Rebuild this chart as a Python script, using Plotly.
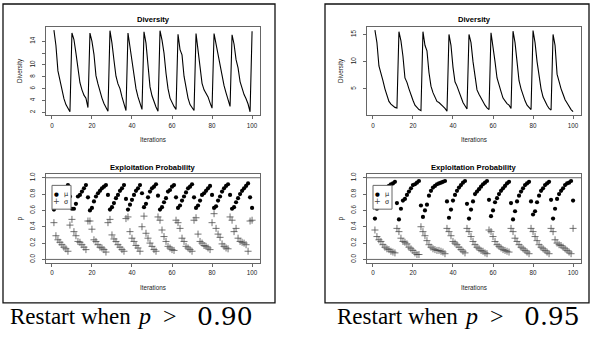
import plotly.graph_objects as go

W, H = 592, 339

# ---------------- data ----------------
iterations = list(range(1, 101))
x_ticks = [0, 20, 40, 60, 80, 100]
div_ticks_090 = [2, 4, 6, 8, 10, 12, 14]
div_ticklabels_090 = ["2", "4", "6", "8", "10", "", "14"]
div_ticks_095 = [5, 10, 15]
p_ticks = [0.0, 0.2, 0.4, 0.6, 0.8, 1.0]
p_ticklabels = ["0.0", "0.2", "0.4", "0.6", "0.8", "1.0"]

diversity_090 = [
    15.9, 13.3, 9.0, 7.5, 5.5, 4.3, 3.3, 2.7, 2.1,
    15.4, 14.3, 12.0, 9.5, 7.0, 5.8, 4.9, 4.4, 2.8,
    15.4, 14.0, 11.8, 8.2, 6.8, 5.5, 4.4, 3.5, 2.9, 2.2,
    15.8, 13.7, 10.8, 8.1, 6.8, 6.0, 4.6, 3.6, 2.3,
    15.4, 13.1, 10.5, 8.0, 6.0, 4.6, 3.5, 2.5,
    15.6, 13.7, 10.0, 6.3, 4.8, 3.8, 2.9, 2.2,
    15.8, 14.2, 12.0, 8.6, 6.0, 4.4, 3.6, 3.0, 2.5,
    15.2, 12.6, 11.7, 8.1, 6.2, 4.4, 3.3, 2.8, 2.3,
    15.3, 12.5, 9.0, 6.9, 5.8, 5.3, 4.6, 3.6, 2.7,
    15.3, 13.5, 11.5, 9.8, 8.1, 6.5, 5.3, 4.3, 3.0,
    15.1, 13.5, 10.9, 9.5, 7.2, 6.0, 5.0, 4.3, 3.4, 2.1,
    15.7,
]

mu_090 = [
    0.61, 0.65, 0.70, 0.74, 0.78, 0.82, 0.86, 0.91, 0.77,
    0.62, 0.62, 0.68, 0.77, 0.79, 0.83, 0.87, 0.91, 0.76,
    0.60, 0.63, 0.71, 0.77, 0.81, 0.84, 0.87, 0.89, 0.91, 0.79,
    0.61, 0.64, 0.69, 0.75, 0.79, 0.84, 0.87, 0.91, 0.74,
    0.61, 0.67, 0.73, 0.79, 0.84, 0.87, 0.91, 0.81,
    0.64, 0.68, 0.76, 0.83, 0.87, 0.89, 0.92, 0.78,
    0.61, 0.64, 0.70, 0.75, 0.83, 0.85, 0.89, 0.91, 0.76,
    0.63, 0.66, 0.72, 0.77, 0.82, 0.87, 0.89, 0.92, 0.76,
    0.63, 0.66, 0.72, 0.79, 0.81, 0.84, 0.87, 0.90, 0.79,
    0.63, 0.65, 0.72, 0.77, 0.83, 0.87, 0.90, 0.92, 0.79,
    0.62, 0.64, 0.70, 0.75, 0.80, 0.84, 0.87, 0.90, 0.93, 0.76,
    0.63,
]

sigma_090 = [
    0.45, 0.29, 0.24, 0.21, 0.18, 0.15, 0.13, 0.10, 0.42, 0.49,
    0.34, 0.29, 0.22, 0.21, 0.18, 0.15, 0.12, 0.47, 0.47,
    0.37, 0.24, 0.22, 0.18, 0.15, 0.14, 0.12, 0.09, 0.45, 0.49,
    0.30, 0.25, 0.22, 0.18, 0.15, 0.12, 0.10, 0.50, 0.52,
    0.34, 0.26, 0.22, 0.17, 0.14, 0.10, 0.40, 0.53,
    0.32, 0.26, 0.20, 0.16, 0.12, 0.10, 0.52, 0.48,
    0.36, 0.28, 0.22, 0.16, 0.14, 0.12, 0.11, 0.48, 0.45,
    0.38, 0.26, 0.22, 0.16, 0.14, 0.12, 0.10, 0.48, 0.51,
    0.31, 0.22, 0.20, 0.17, 0.16, 0.14, 0.12, 0.45, 0.56,
    0.38, 0.31, 0.27, 0.19, 0.16, 0.14, 0.13, 0.52, 0.48,
    0.34, 0.38, 0.26, 0.22, 0.21, 0.20, 0.18, 0.10, 0.47, 0.48,
]

diversity_095 = [
    15.8, 13.5, 9.2, 8.0, 6.5, 5.0, 3.8, 2.7, 2.2, 1.9, 1.6, 1.5,
    15.5, 13.8, 11.0, 7.0, 6.2, 5.0, 3.8, 2.9, 2.0, 1.5, 1.2, 1.0,
    15.5, 13.0, 12.0, 8.0, 5.5, 4.3, 3.5, 2.7, 2.5, 2.2, 1.8, 1.4, 0.9,
    15.0, 13.0, 9.0, 6.3, 5.5, 4.5, 3.3, 2.5, 1.9, 1.3,
    15.0, 13.5, 10.0, 7.5, 4.8, 4.0, 3.3, 2.5, 2.0, 1.5, 1.2,
    15.3, 13.0, 10.0, 7.0, 5.5, 4.5, 3.3, 2.7, 2.3, 2.0, 1.4,
    15.6, 13.5, 10.0, 6.5, 5.0, 3.8, 2.8, 2.0, 1.5, 1.2,
    15.7, 13.5, 10.0, 7.0, 5.0, 3.5, 2.6, 2.0, 1.4, 1.1,
    15.0, 13.0, 7.7, 6.2, 5.0, 4.0, 3.0, 2.4, 1.7, 1.2, 0.8,
]

mu_095 = [
    0.50, 0.62, 0.68, 0.74, 0.79, 0.84, 0.88, 0.90, 0.92, 0.93, 0.95, 0.69,
    0.49, 0.62, 0.72, 0.74, 0.79, 0.83, 0.87, 0.91, 0.92, 0.94, 0.96, 0.66,
    0.52, 0.60, 0.67, 0.78, 0.84, 0.88, 0.90, 0.92, 0.93, 0.94, 0.95, 0.96, 0.71,
    0.51, 0.61, 0.72, 0.79, 0.84, 0.88, 0.91, 0.94, 0.96, 0.68,
    0.50, 0.61, 0.71, 0.80, 0.83, 0.86, 0.89, 0.92, 0.94, 0.96, 0.73,
    0.53, 0.60, 0.70, 0.75, 0.80, 0.84, 0.87, 0.90, 0.93, 0.95, 0.69,
    0.49, 0.59, 0.71, 0.78, 0.83, 0.87, 0.91, 0.93, 0.95, 0.71,
    0.55, 0.59, 0.70, 0.78, 0.84, 0.87, 0.91, 0.93, 0.95, 0.73,
    0.50, 0.62, 0.74, 0.80, 0.84, 0.87, 0.91, 0.93, 0.94, 0.96, 0.72,
]

sigma_095 = [
    0.36, 0.28, 0.24, 0.22, 0.18, 0.15, 0.13, 0.12, 0.10, 0.09, 0.08,
    0.38, 0.34, 0.26, 0.22, 0.21, 0.19, 0.15, 0.13, 0.11, 0.08, 0.06, 0.06,
    0.40, 0.34, 0.29, 0.23, 0.18, 0.15, 0.13, 0.12, 0.11, 0.11, 0.10, 0.09, 0.07,
    0.38, 0.34, 0.29, 0.22, 0.20, 0.18, 0.15, 0.12, 0.10, 0.08,
    0.38, 0.34, 0.28, 0.22, 0.18, 0.15, 0.13, 0.11, 0.10, 0.08, 0.07,
    0.36, 0.34, 0.28, 0.22, 0.18, 0.16, 0.14, 0.12, 0.11, 0.10, 0.09,
    0.38, 0.34, 0.26, 0.22, 0.18, 0.15, 0.13, 0.11, 0.09, 0.07,
    0.38, 0.34, 0.28, 0.23, 0.18, 0.15, 0.13, 0.11, 0.09, 0.07,
    0.38, 0.34, 0.24, 0.20, 0.18, 0.17, 0.15, 0.13, 0.11, 0.09, 0.07,
    0.38,
]

titles = ["Diversity", "Exploitation Probability"]
x_label = "Iterations"
y_labels = ["Diversity", "p"]
legend_labels = ["μ", "σ"]
caption_prefix = "Restart when"
caption_thresholds = ["0.90", "0.95"]

# ---------------- layout helpers ----------------
SANS = "Liberation Sans, Arial, Helvetica, sans-serif"
SERIF = "Liberation Serif, Times New Roman, serif"
FRAME = "#666666"
TXT = "#222222"


def fx(px):
    return px / W


def fy(py):
    return 1 - py / H


def r_range(vals):
    lo, hi = min(vals), max(vals)
    d = (hi - lo) * 0.04
    return [lo - d, hi + d]


# plot frames in pixels: (left, right, top, bottom)
frames = {
    "div_l": (46, 260, 24, 113),
    "div_r": (367, 581, 24, 113),
    "p_l": (46, 260, 173, 262),
    "p_r": (367, 581, 173, 262),
}

fig = go.Figure()

# diversity lines
fig.add_trace(go.Scatter(x=iterations, y=diversity_090, mode="lines",
                         line=dict(color="black", width=1.1),
                         xaxis="x", yaxis="y", showlegend=False))
fig.add_trace(go.Scatter(x=iterations, y=diversity_095, mode="lines",
                         line=dict(color="black", width=1.1),
                         xaxis="x2", yaxis="y2", showlegend=False))

# exploitation probability
for xa, ya, mu, sg in [("x3", "y3", mu_090, sigma_090), ("x4", "y4", mu_095, sigma_095)]:
    fig.add_trace(go.Scatter(x=iterations, y=sg, mode="markers",
                             marker=dict(symbol="cross-thin", size=5, color="#444444",
                                         line=dict(color="#444444", width=0.75)),
                             xaxis=xa, yaxis=ya, showlegend=False))
    fig.add_trace(go.Scatter(x=iterations, y=mu, mode="markers",
                             marker=dict(symbol="circle", size=4.2, color="black"),
                             xaxis=xa, yaxis=ya, showlegend=False))

axis_common = dict(showgrid=False, zeroline=False, showline=True, mirror=True,
                   linecolor=FRAME, linewidth=1, ticks="outside", ticklen=3,
                   tickwidth=1, tickcolor=FRAME,
                   tickfont=dict(family=SANS, size=6.3, color=TXT))

x_range = r_range(iterations)
layout_axes = {}
names = [("xaxis", "yaxis", "div_l", r_range(diversity_090), div_ticks_090, div_ticklabels_090),
         ("xaxis2", "yaxis2", "div_r", r_range(diversity_095), div_ticks_095, [str(t) for t in div_ticks_095]),
         ("xaxis3", "yaxis3", "p_l", [-0.04, 1.04], p_ticks, p_ticklabels),
         ("xaxis4", "yaxis4", "p_r", [-0.04, 1.04], p_ticks, p_ticklabels)]
for i, (xn, yn, fk, yr, yt, ytl) in enumerate(names):
    l, r, t, b = frames[fk]
    anchor_x = "y" if i == 0 else "y%d" % (i + 1)
    anchor_y = "x" if i == 0 else "x%d" % (i + 1)
    layout_axes[xn] = dict(axis_common, domain=[fx(l), fx(r)], range=x_range,
                           tickmode="array", tickvals=x_ticks,
                           ticktext=[str(v) for v in x_ticks],
                           anchor=anchor_x, ticklabelstandoff=1)
    layout_axes[yn] = dict(axis_common, domain=[fy(b), fy(t)], range=yr,
                           tickmode="array", tickvals=yt, ticktext=ytl,
                           tickangle=-90, anchor=anchor_y, ticklabelstandoff=4)

shapes = []
# reference lines at p = 0 and p = 1
for xa, ya in [("x3", "y3"), ("x4", "y4")]:
    for yv in [0, 1]:
        shapes.append(dict(type="line", xref=xa + " domain", x0=0, x1=1,
                           yref=ya, y0=yv, y1=yv,
                           line=dict(color=FRAME, width=1), layer="below"))

annotations = []


def ann(text, px, py, size, family=SANS, color=TXT, xanchor="center", angle=0):
    annotations.append(dict(text=text, x=fx(px), y=fy(py), xref="paper", yref="paper",
                            showarrow=False, xanchor=xanchor, yanchor="middle",
                            textangle=angle, font=dict(family=family, size=size, color=color)))


# legends (drawn manually, R style)
for (bl, br, bt, bb) in [(52, 71, 184, 208), (373, 392, 184, 208)]:
    shapes.append(dict(type="rect", xref="paper", yref="paper",
                       x0=fx(bl), x1=fx(br), y0=fy(bb), y1=fy(bt),
                       fillcolor="white", line=dict(color=FRAME, width=1), layer="above"))
    for k, (glyph, gsize, lab) in enumerate([("●", 5.5, legend_labels[0]), ("+", 8, legend_labels[1])]):
        yy = 192.3 + k * 8.4
        ann(glyph, bl + 4.5, yy, gsize, family="DejaVu Sans, " + SANS,
            color="black" if k == 0 else "#444444")
        ann(lab, bl + 10, yy, 6.5, family="DejaVu Sans, " + SANS, xanchor="left")

# titles and axis labels
for row, (fkl, fkr) in enumerate([("div_l", "div_r"), ("p_l", "p_r")]):
    for fk, ylab_x in [(fkl, 20), (fkr, 341)]:
        l, r, t, b = frames[fk]
        cx = (l + r) / 2
        ann("<b>%s</b>" % titles[row], cx, t - 7, 7.6, color="black")
        ann(x_label, cx, b + 25, 6.3)
        ann(y_labels[row], ylab_x, (t + b) / 2, 6.3, angle=-90)

# panel boxes
for (bl, br) in [(3, 275), (325, 589)]:
    shapes.append(dict(type="rect", xref="paper", yref="paper",
                       x0=fx(bl), x1=fx(br), y0=fy(302.5), y1=fy(1),
                       line=dict(color="#111111", width=1.3), fillcolor="rgba(0,0,0,0)",
                       layer="above"))

# captions (LaTeX-like: text part, italic p, relation, number)
CAP_Y = 316
for thr, x0 in zip(caption_thresholds, [8, 335]):
    ann(caption_prefix, x0, CAP_Y, 23, family=SERIF, color="black", xanchor="left")
    ann("<i>p</i>", x0 + 136, CAP_Y, 24, family=SERIF, color="black")
    ann("&gt;", x0 + 162, CAP_Y, 24, family=SERIF, color="black")
    ann(thr, x0 + 217, CAP_Y, 25, family="DejaVu Serif, " + SERIF, color="black")

fig.update_layout(width=W, height=H, autosize=False,
                  margin=dict(l=0, r=0, t=0, b=0),
                  paper_bgcolor="white", plot_bgcolor="white",
                  shapes=shapes, annotations=annotations, showlegend=False,
                  **layout_axes)

fig.write_html("out.html", config={"displayModeBar": False},
               post_script="document.body.style.margin='0px';"
                           "document.body.style.overflow='hidden';")
